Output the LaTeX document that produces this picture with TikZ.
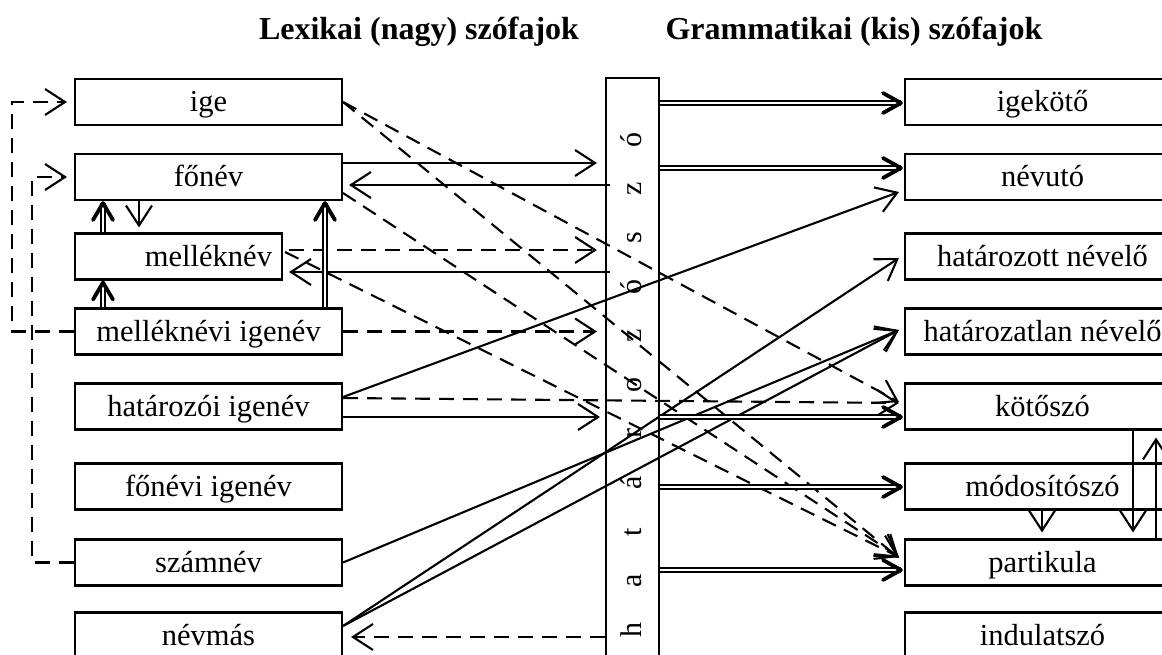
\documentclass[tikz,border=0pt]{standalone}
\usepackage{fontspec}
\setmainfont{Liberation Serif}
\usetikzlibrary{arrows.meta,calc}
\begin{document}
\begin{tikzpicture}[x=1pt,y=-1pt,line width=2.1pt,
  box/.style={draw,line width=2.1pt,inner sep=0pt,minimum height=46pt,text height=23pt,text depth=3pt,font=\fontsize{30.5}{32}\selectfont},
  lbox/.style={box,minimum width=267pt},
  rbox/.style={box,minimum width=275pt},
  ar/.style={-{Straight Barb[length=20pt,width=26pt]}},
  dsh/.style={dash pattern=on 15pt off 9pt},
  dbl/.style={double,double distance=2.4pt,line width=1.5pt},
  thk/.style={line width=3.8pt,line cap=round,line join=round},
  ttl/.style={font=\fontsize{32}{34}\selectfont\bfseries,anchor=base},
  ltr/.style={rotate=90,anchor=base,font=\fontsize{30}{32}\selectfont}]
\useasboundingbox (0,0) rectangle (1162,655);
% titles
\node[ttl] (t1) at (419,40) {Lexikai (nagy) szófajok};
\node[ttl] (t2) at (854,40) {Grammatikai (kis) szófajok};
% left boxes
\node[lbox] (ige) at (208.5,102) {ige};
\node[lbox] (fonev) at (208.5,177) {főnév};
\node[box,minimum width=207pt,text width=187pt,inner xsep=10pt,align=right] (mellek) at (178.5,256.5) {melléknév};
\node[lbox] (mi) at (208.5,331.5) {melléknévi igenév};
\node[lbox] (hi) at (208.5,406.5) {határozói igenév};
\node[lbox] (fi) at (208.5,486.5) {főnévi igenév};
\node[lbox] (szam) at (208.5,562.5) {számnév};
\node[lbox] (nevmas) at (208.5,635.5) {névmás};
% right boxes
\node[rbox] (igek) at (1042.5,102) {igekötő};
\node[rbox] (nevuto) at (1042.5,177) {névutó};
\node[rbox] (hatott) at (1042.5,256.5) {határozott névelő};
\node[rbox] (hatlan) at (1042.5,331.5) {határozatlan névelő};
\node[rbox] (kot) at (1042.5,406.5) {kötőszó};
\node[rbox] (mod) at (1042.5,486.5) {módosítószó};
\node[rbox] (part) at (1042.5,562.5) {partikula};
\node[rbox] (indul) at (1042.5,635.5) {indulatszó};
% bar
\node[draw,line width=2.1pt,inner sep=0pt,minimum width=53pt,minimum height=640pt,anchor=north west] (bar) at (605,77) {};
\foreach \l [count=\i from 0] in {h,a,t,á,r,o,z,ó,s,z,ó}
  \node[ltr] (L\i) at (641,{630-49*\i}) {\l};
% left dashed loops
\draw[dsh,ar] (mi.west) -- (mi.west -| 12,0) -- (ige.west -| 12,0) -- ($(ige.west)+(-7,0)$);
\draw[dsh,ar] (szam.west) -- (szam.west -| 32,0) -- (fonev.west -| 32,0) -- ($(fonev.west)+(-7,0)$);
% thin solid / dashed horizontals
\draw[ar] (fonev.east |- 0,163) -- ($(bar.west |- 0,163)+(-8,0)$);
\draw[ar] ($(bar.west |- 0,185)+(5,0)$) -- ($(fonev.east |- 0,185)+(6,0)$);
\draw[ar] (fonev.south -| 139,0) -- ($(mellek.north -| 139,0)+(0,-5)$);
\draw[dsh,ar] ($(mellek.east |- 0,250)+(6,0)$) -- ($(bar.west |- 0,250)+(-8,0)$);
\draw[ar] ($(bar.west |- 0,272)+(5,0)$) -- ($(mellek.east |- 0,272)+(6,0)$);
\draw[dsh,ar] (mi.east) -- ($(bar.west |- mi.east)+(-8,0)$);
\draw[ar] (hi.east |- 0,417) -- ($(bar.west |- 0,417)+(-5,0)$);
\draw[dsh,ar] (hi.east |- 0,398) -- ($(kot.west |- 0,403)+(-5,0)$);
\draw[dsh,ar] (bar.west |- 0,637) -- ($(nevmas.east |- 0,637)+(8,0)$);
% diagonal solid
\draw[ar] (hi.east |- 0,397) -- ($(nevuto.west |- 0,192)+(-5,0)$);
\draw[ar] (szam.east) -- ($(hatlan.west |- 0,330)+(-5,0)$);
\draw[ar] (nevmas.east |- 0,626) -- ($(hatott.west |- 0,258)+(-5,0)$);
\draw[ar] (nevmas.east |- 0,626) -- ($(hatlan.west |- 0,330)+(-5,0)$);
% diagonal dashed
\draw[dsh,ar] (ige.east) -- ($(kot.west |- 0,402)+(-5,0)$);
\draw[dsh,ar] (ige.east) -- ($(part.west |- 0,558)+(-5,0)$);
\draw[dsh,ar] (fonev.east |- 0,193) -- ($(part.west |- 0,557)+(-5,0)$);
\draw[dsh,ar] ($(mellek.east |- 0,252)+(2,0)$) -- ($(part.west |- 0,557)+(-5,0)$);
% double arrows from bar
\foreach \t/\yy [count=\k] in {igek/103,nevuto/168,kot/417,mod/487,part/570}{
  \coordinate (h\k) at ($(\t.west |- 0,\yy)+(-3,0)$);
  \draw[dbl] (bar.east |- h\k) -- (h\k);
  \draw[thk] ($(h\k)+(-18,-10)$) -- (h\k) -- ($(h\k)+(-18,10)$);
}
% vertical double arrows
\coordinate (v1) at ($(mellek.south -| 103,0)+(0,2)$);
\draw[dbl] (mi.north -| v1) -- (v1);
\draw[thk] ($(v1)+(-10,17)$) -- (v1) -- ($(v1)+(10,17)$);
\coordinate (v2) at ($(fonev.south -| 103,0)+(0,2)$);
\draw[dbl] (mellek.north -| v2) -- (v2);
\draw[thk] ($(v2)+(-10,17)$) -- (v2) -- ($(v2)+(10,17)$);
\coordinate (v3) at ($(fonev.south -| 325,0)+(0,2)$);
\draw[dbl] (mi.north -| v3) -- (v3);
\draw[thk] ($(v3)+(-10,17)$) -- (v3) -- ($(v3)+(10,17)$);
% right side thin arrows
\draw[ar] (mod.south -| 1042,0) -- ($(part.north -| 1042,0)+(0,-6)$);
\draw[ar] (kot.south -| 1133,0) -- ($(part.north -| 1133,0)+(0,-6)$);
\draw[ar] (part.north -| 1156,0) -- ($(kot.south -| 1156,0)+(0,7)$);
\end{tikzpicture}
\end{document}
